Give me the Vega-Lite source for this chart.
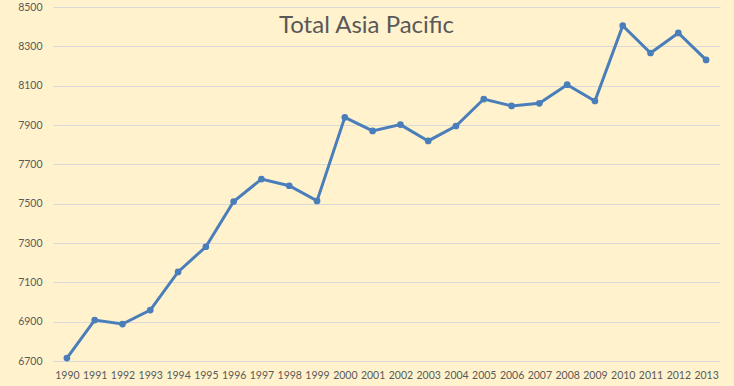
{
  "$schema": "https://vega.github.io/schema/vega-lite/v6.json",
  "width": 667,
  "height": 354,
  "autosize": {"type": "none"},
  "padding": {"left": 53, "top": 7, "right": 14, "bottom": 25},
  "background": "#FFF2CC",
  "config": {"view": {"stroke": null}, "font": "Lato"},
  "title": {
    "text": "Total Asia Pacific",
    "anchor": "middle",
    "frame": "group",
    "orient": "top",
    "offset": -36,
    "dx": -20,
    "fontSize": 24,
    "font": "Lato",
    "fontWeight": "normal",
    "color": "#595959"
  },
  "data": {
    "values": [
      {"year": "1990", "value": 6715},
      {"year": "1991", "value": 6908},
      {"year": "1992", "value": 6888},
      {"year": "1993", "value": 6959},
      {"year": "1994", "value": 7153},
      {"year": "1995", "value": 7281},
      {"year": "1996", "value": 7511},
      {"year": "1997", "value": 7625},
      {"year": "1998", "value": 7591},
      {"year": "1999", "value": 7514},
      {"year": "2000", "value": 7939},
      {"year": "2001", "value": 7870},
      {"year": "2002", "value": 7902},
      {"year": "2003", "value": 7819},
      {"year": "2004", "value": 7895},
      {"year": "2005", "value": 8032},
      {"year": "2006", "value": 7997},
      {"year": "2007", "value": 8010},
      {"year": "2008", "value": 8105},
      {"year": "2009", "value": 8022},
      {"year": "2010", "value": 8405},
      {"year": "2011", "value": 8266},
      {"year": "2012", "value": 8368},
      {"year": "2013", "value": 8231}
    ]
  },
  "encoding": {
    "x": {
      "field": "year",
      "type": "ordinal",
      "scale": {"type": "point", "padding": 0.5},
      "axis": {
        "title": null,
        "labelAngle": 0,
        "ticks": false,
        "domain": false,
        "grid": false,
        "labelPadding": 9,
        "labelFontSize": 10.5,
        "labelColor": "#595959",
        "labelFont": "Lato"
      }
    },
    "y": {
      "field": "value",
      "type": "quantitative",
      "scale": {"domain": [6700, 8500], "nice": false, "zero": false},
      "axis": {
        "title": null,
        "values": [6700, 6900, 7100, 7300, 7500, 7700, 7900, 8100, 8300, 8500],
        "format": "d",
        "ticks": false,
        "domain": false,
        "gridColor": "#D9D9D9",
        "gridWidth": 1,
        "labelPadding": 11,
        "labelFontSize": 10.5,
        "labelColor": "#595959",
        "labelFont": "Lato"
      }
    }
  },
  "layer": [
    {"mark": {"type": "line", "color": "#4A7EBB", "strokeWidth": 3}},
    {"mark": {"type": "point", "filled": true, "color": "#4A7EBB", "size": 45, "opacity": 1}}
  ]
}
